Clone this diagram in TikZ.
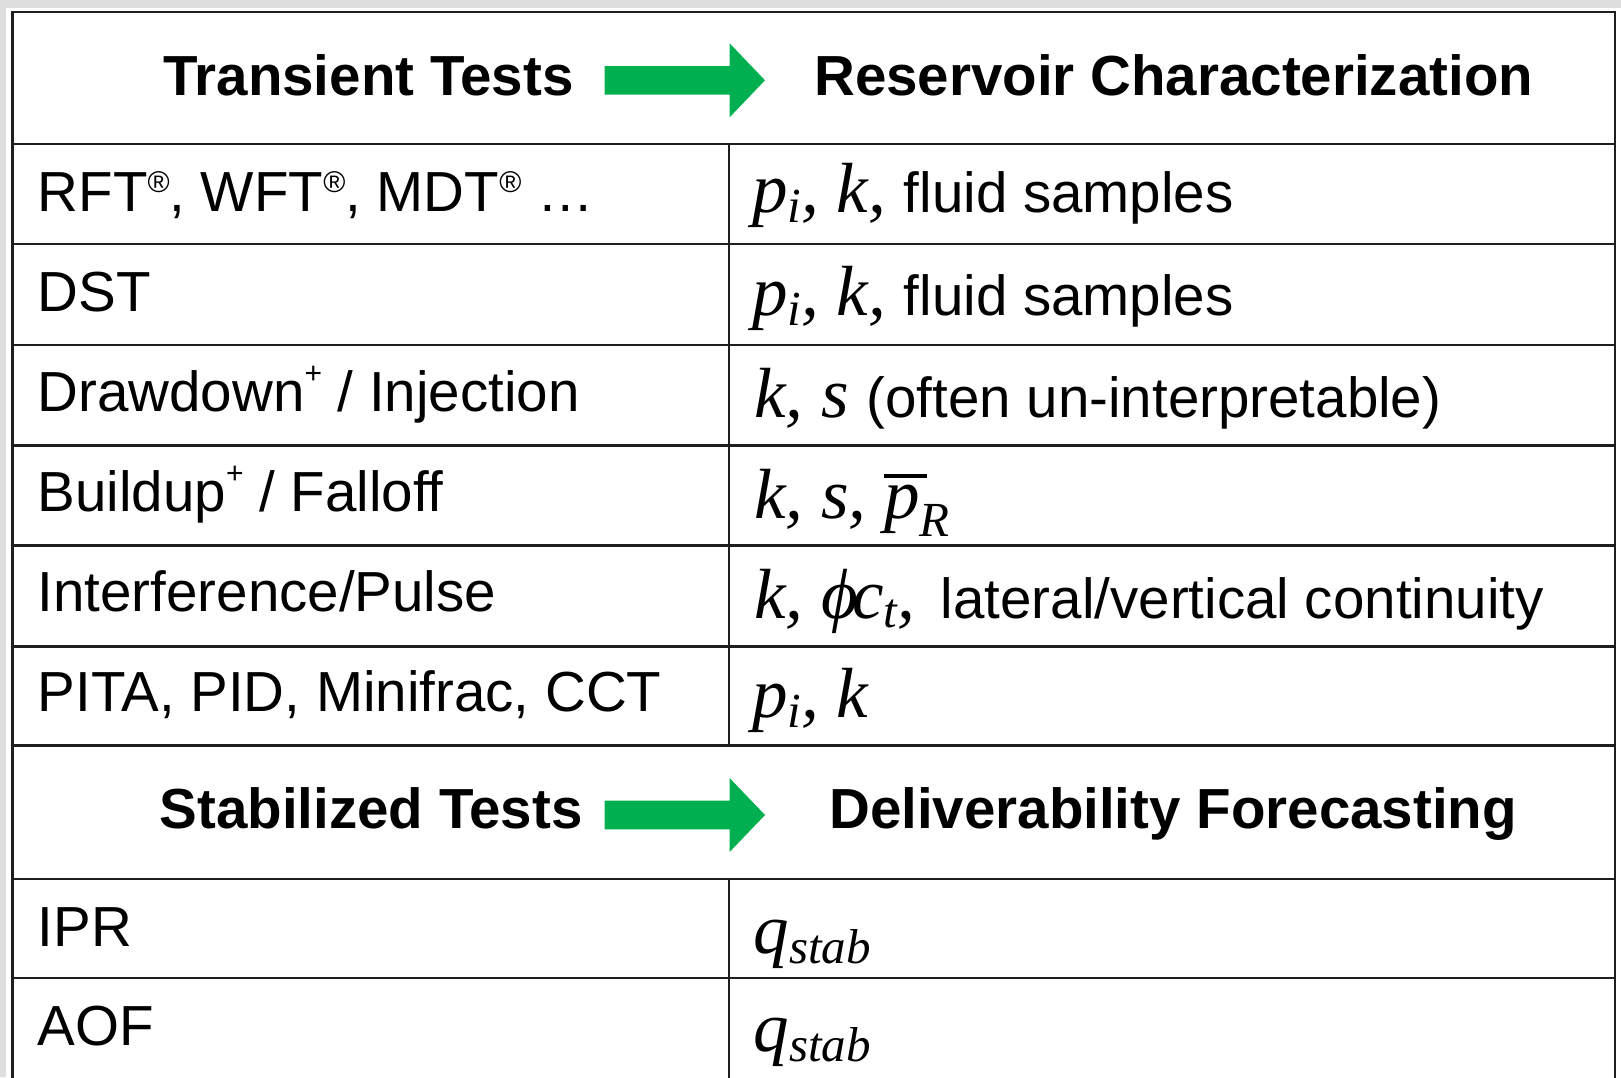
\documentclass[tikz,border=0pt]{standalone}
\usepackage{fontspec}
\setmainfont{Liberation Sans}
\newfontfamily\tmsfont{Liberation Serif}
\definecolor{arrowgreen}{RGB}{0,176,80}
\definecolor{marginGray}{RGB}{222,222,222}
\definecolor{ruleInk}{RGB}{30,30,30}

% text styles
\newcommand\bodysize{\fontsize{56.5}{60}\selectfont}
\newcommand\headsize{\bfseries\fontsize{56.5}{60}\selectfont}
% italic serif symbols and their subscripts
\newcommand\mth[1]{{\tmsfont\itshape\fontsize{71}{75}\selectfont #1}}
\newcommand\msub[2][10pt]{\raisebox{-#1}{\tmsfont\itshape\fontsize{49}{52}\selectfont #2}}
\newcommand\smallsup[2]{\raisebox{#1}{\fontsize{30}{32}\selectfont #2}}
\newcommand\regmark{\smallsup{19pt}{®}}
\newcommand\plusmark{\smallsup{28pt}{+}}
% p with a bar over it
\newcommand\pbar{\makebox[0pt][l]{\rule[40pt]{43pt}{4pt}}\mth{p}}

\begin{document}
\begin{tikzpicture}[x=1pt,y=-1pt,
  lefttxt/.style={anchor=base west, inner sep=0pt, font=\bodysize},
  righttxt/.style={anchor=base west, inner sep=0pt, font=\bodysize},
  headtxt/.style={anchor=base west, inner sep=0pt, font=\headsize},
  hrule/.style={draw=ruleInk, line width=2.6pt},
  vrule/.style={draw=ruleInk, line width=2pt},
  greenarrow/.style={fill=arrowgreen}]
\useasboundingbox (0,0) rectangle (1621,1077);

% page margin
\fill[marginGray] (0,0) rectangle (1621,8);
\fill[marginGray] (0,0) rectangle (6,1077);

% table frame
\coordinate (tl) at (12.5,11.8);
\coordinate (tr) at (1615,11.8);
\coordinate (bl) at (12.5,1085);
\coordinate (br) at (1615,1085);
\draw[hrule] (bl) -- (tl) -- (tr) -- (br);

% row separators
\foreach \yy in {144,244,345,445.7,545.7,646.3,745.7,879,978}
  \draw[hrule] (12.5,\yy) -- (1615,\yy);

% column divider (headers span both columns)
\draw[vrule] (729,144) -- (729,745.7);
\draw[vrule] (729,879) -- (729,1085);

% header: transient tests
\node[headtxt] (hTrans) at (163,95) {Transient Tests};
\node[headtxt] (hRes) at (814,95) {Reservoir Characterization};
\coordinate (a1) at (604.6,80.3);
\fill[greenarrow] (a1) ++(0,-14.3) -- ++(125,0) -- ++(0,-22.7) -- ++(35.4,37)
  -- ++(-35.4,37) -- ++(0,-22.7) -- ++(-125,0) -- cycle;

% transient test rows
\node[lefttxt] (l1) at (37.5,211) {RFT\regmark, WFT\regmark, MDT\regmark\ …};
\node[righttxt] (r1) at (752,212.5) {\mth{p}\msub{i}\mth{, k, }fluid samples};

\node[lefttxt] (l2) at (37.5,311) {DST};
\node[righttxt] (r2) at (752,315.5) {\mth{p}\msub{i}\mth{, k, }fluid samples};

\node[lefttxt] (l3) at (37.5,411.7) {Drawdown\plusmark\ / Injection};
\node[righttxt] (r3) at (754,417) {\mth{k, s }(often un-interpretable)};

\node[lefttxt] (l4) at (37.5,511.7) {Buildup\plusmark\ / Falloff};
\node[righttxt] (r4) at (754,518) {\mth{k, s, }\pbar\msub[18pt]{R}};

\node[lefttxt] (l5) at (37.5,611.7) {Interference/Pulse};
\node[righttxt] (r5) at (754,618) {\mth{k, ϕ}\hspace{-6pt}\mth{c}\msub[9pt]{t}\mth{,}\hspace{26pt}lateral/vertical continuity};

\node[lefttxt] (l6) at (37.5,711.7) {PITA, PID, Minifrac, CCT};
\node[righttxt] (r6) at (752,717) {\mth{p}\msub{i}\mth{, k}};

% header: stabilized tests
\node[headtxt] (hStab) at (159.5,828.5) {Stabilized Tests};
\node[headtxt] (hDel) at (829,828.5) {Deliverability Forecasting};
\coordinate (a2) at (604.6,815);
\fill[greenarrow] (a2) ++(0,-14.3) -- ++(125,0) -- ++(0,-22.7) -- ++(35.4,37)
  -- ++(-35.4,37) -- ++(0,-22.7) -- ++(-125,0) -- cycle;

% stabilized test rows
\node[lefttxt] (l7) at (37.5,946.7) {IPR};
\node[righttxt] (r7) at (753.5,953) {\mth{q}\msub{stab}};

\node[lefttxt] (l8) at (37.5,1045) {AOF};
\node[righttxt] (r8) at (753.5,1051) {\mth{q}\msub{stab}};
\end{tikzpicture}
\end{document}
